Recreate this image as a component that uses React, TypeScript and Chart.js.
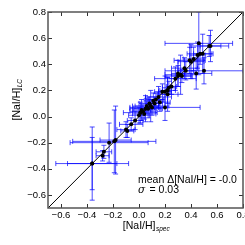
import React, { useEffect, useRef } from "react";
import { Chart, registerables } from "chart.js";

Chart.register(...registerables);

// [NaI/H] spectroscopic values (x)
const xSpec = [
  -0.36, -0.36, -0.28, -0.27, -0.23, -0.19, -0.18, -0.1, -0.09, -0.06, -0.03, 0.0,
  0.02, 0.03, 0.05, 0.06, 0.08, 0.09, 0.1, 0.11, 0.13, 0.15, 0.16, 0.18, 0.2, 0.2,
  0.22, 0.22, 0.23, 0.25, 0.28, 0.3, 0.3, 0.32, 0.33, 0.35, 0.36, 0.39, 0.4, 0.42,
  0.44, 0.45, 0.46, 0.47, 0.49, 0.5, 0.54, 0.55, 0.04, 0.07, 0.12, 0.01,
];
// [NaI/H] line-ratio values (y)
const yLC = [
  -0.36, -0.36, -0.3, -0.27, -0.2, -0.19, -0.18, -0.1, -0.11, -0.06, -0.03, 0.01,
  0.05, 0.04, 0.06, 0.08, 0.1, 0.08, 0.07, 0.12, 0.13, 0.15, 0.11, 0.19, 0.07, 0.19,
  0.2, 0.17, 0.22, 0.23, 0.29, 0.31, 0.33, 0.32, 0.31, 0.37, 0.35, 0.43, 0.42, 0.44,
  0.33, 0.47, 0.56, 0.48, 0.48, 0.35, 0.54, 0.54, 0.02, 0.06, 0.1, 0.03,
];
// x errors
const xErr = [
  0.28, 0.19, 0.05, 0.06, 0.3, 0.32, 0.12, 0.07, 0.05, 0.09, 0.06, 0.08,
  0.07, 0.1, 0.12, 0.09, 0.08, 0.14, 0.05, 0.07, 0.06, 0.1, 0.08, 0.06, 0.27, 0.05,
  0.06, 0.08, 0.05, 0.04, 0.16, 0.1, 0.05, 0.12, 0.08, 0.1, 0.06, 0.12, 0.1, 0.08,
  0.12, 0.06, 0.26, 0.1, 0.07, 0.3, 0.15, 0.08, 0.09, 0.11, 0.06, 0.13,
];
// y errors
const yErr = [
  0.28, 0.2, 0.04, 0.05, 0.15, 0.24, 0.26, 0.06, 0.05, 0.05, 0.07, 0.06,
  0.08, 0.05, 0.1, 0.06, 0.05, 0.12, 0.06, 0.06, 0.05, 0.08, 0.07, 0.06, 0.1, 0.12,
  0.1, 0.13, 0.05, 0.06, 0.09, 0.08, 0.1, 0.15, 0.05, 0.08, 0.07, 0.1, 0.13, 0.09,
  0.12, 0.1, 0.24, 0.08, 0.15, 0.1, 0.08, 0.12, 0.04, 0.07, 0.05, 0.08,
];
const tickValues = [-0.6, -0.4, -0.2, 0.0, 0.2, 0.4, 0.6, 0.8];
const axisMin = -0.7;
const axisMax = 0.8;
const annotLines = ["mean \u0394[NaI/H] = -0.0", "= 0.03"];

const FONT = "'Liberation Sans', Arial, sans-serif";

const fmt = (v: number) => (v < -1e-9 ? "\u2212" : "") + Math.abs(v).toFixed(1);

const errorBarPlugin = {
  id: "errorBars",
  beforeDatasetsDraw(chart: any) {
    const { ctx, chartArea, scales } = chart;
    const xs = scales.x;
    const ys = scales.y;
    ctx.save();
    ctx.beginPath();
    ctx.rect(chartArea.left, chartArea.top, chartArea.right - chartArea.left, chartArea.bottom - chartArea.top);
    ctx.clip();
    ctx.strokeStyle = "rgba(0,0,255,0.7)";
    ctx.lineWidth = 1;
    const cap = 2.5;
    for (let i = 0; i < xSpec.length; i++) {
      const px = xs.getPixelForValue(xSpec[i]);
      const py = ys.getPixelForValue(yLC[i]);
      const x0 = xs.getPixelForValue(xSpec[i] - xErr[i]);
      const x1 = xs.getPixelForValue(xSpec[i] + xErr[i]);
      const y0 = ys.getPixelForValue(yLC[i] - yErr[i]);
      const y1 = ys.getPixelForValue(yLC[i] + yErr[i]);
      ctx.beginPath();
      ctx.moveTo(x0, py); ctx.lineTo(x1, py);
      ctx.moveTo(x0, py - cap); ctx.lineTo(x0, py + cap);
      ctx.moveTo(x1, py - cap); ctx.lineTo(x1, py + cap);
      ctx.moveTo(px, y0); ctx.lineTo(px, y1);
      ctx.moveTo(px - cap, y0); ctx.lineTo(px + cap, y0);
      ctx.moveTo(px - cap, y1); ctx.lineTo(px + cap, y1);
      ctx.stroke();
    }
    ctx.restore();
  },
};

const framePlugin = {
  id: "frame",
  afterDraw(chart: any) {
    const { ctx, chartArea, scales } = chart;
    const { left, right, top, bottom } = chartArea;
    const xs = scales.x;
    const ys = scales.y;
    ctx.save();
    ctx.strokeStyle = "#333";
    ctx.lineWidth = 1;
    const tl = 4;
    ctx.beginPath();
    for (const v of tickValues) {
      const x = Math.round(xs.getPixelForValue(v)) + 0.5;
      ctx.moveTo(x, bottom); ctx.lineTo(x, bottom - tl);
      ctx.moveTo(x, top); ctx.lineTo(x, top + tl);
      const y = Math.round(ys.getPixelForValue(v)) + 0.5;
      ctx.moveTo(left, y); ctx.lineTo(left + tl, y);
      ctx.moveTo(right, y); ctx.lineTo(right - tl, y);
    }
    ctx.stroke();
    ctx.strokeStyle = "#555";
    ctx.lineWidth = 1.5;
    ctx.strokeRect(left, top, right - left, bottom - top);

    // axis titles
    ctx.fillStyle = "#000";
    ctx.textBaseline = "alphabetic";
    ctx.textAlign = "left";
    const main = "[NaI/H]";
    ctx.font = `10.5px ${FONT}`;
    const wMain = ctx.measureText(main).width;
    ctx.font = `italic 6.5px ${FONT}`;
    const wSubX = ctx.measureText("spec").width;
    const cx = 146;
    const sx = cx - (wMain + wSubX) / 2;
    ctx.font = `10.5px ${FONT}`;
    ctx.fillText(main, sx, 228.5);
    ctx.font = `italic 6.5px ${FONT}`;
    ctx.fillText("spec", sx + wMain + 0.5, 231);

    // y title
    ctx.save();
    ctx.translate(19.5, 100);
    ctx.rotate(-Math.PI / 2);
    ctx.font = `italic 6.5px ${FONT}`;
    const wSubY = ctx.measureText("LC").width;
    ctx.font = `10.5px ${FONT}`;
    const sy = -(wMain + wSubY) / 2;
    ctx.fillText(main, sy, 0);
    ctx.font = `italic 6.5px ${FONT}`;
    ctx.fillText("LC", sy + wMain + 0.5, 2.5);
    ctx.restore();

    // annotation
    ctx.font = `10.5px ${FONT}`;
    ctx.fillText(annotLines[0], 138, 182.5);
    ctx.font = `italic 10.5px 'DejaVu Serif', serif`;
    ctx.fillText("\u03c3", 138, 192.5);
    const ws = ctx.measureText("\u03c3 ").width;
    ctx.font = `10.5px ${FONT}`;
    ctx.fillText(annotLines[1], 138 + ws + 1, 192.5);
    ctx.restore();
  },
};

export default function App() {
  const ref = useRef<HTMLCanvasElement>(null);
  useEffect(() => {
    const canvas = ref.current!;
    const chart = new Chart(canvas, {
      type: "scatter",
      data: {
        datasets: [
          {
            type: "line",
            data: [
              { x: axisMin, y: axisMin },
              { x: axisMax, y: axisMax },
            ],
            borderColor: "#000",
            borderWidth: 1,
            pointRadius: 0,
            fill: false,
            order: 2,
          } as any,
          {
            data: xSpec.map((x, i) => ({ x, y: yLC[i] })),
            backgroundColor: "#000",
            borderColor: "#000",
            borderWidth: 0,
            pointRadius: 2,
            pointStyle: "circle",
            order: 1,
          },
        ],
      },
      options: {
        animation: false,
        responsive: false,
        devicePixelRatio: 1,
        layout: { padding: { top: 12, right: 22, left: 0, bottom: 0 } },
        plugins: { legend: { display: false }, tooltip: { enabled: false } },
        scales: {
          x: {
            type: "linear",
            min: axisMin,
            max: axisMax,
            afterBuildTicks: (s: any) => {
              s.ticks = tickValues.map((v) => ({ value: v }));
            },
            afterFit: (s: any) => {
              s.height = 37;
            },
            grid: { display: false, drawTicks: false },
            border: { display: false },
            ticks: {
              color: "#000",
              padding: 2,
              maxRotation: 0,
              autoSkip: false,
              font: { family: FONT, size: 9.5 },
              callback: (v: any) => fmt(Number(v)),
            },
          },
          y: {
            type: "linear",
            min: axisMin,
            max: axisMax,
            afterBuildTicks: (s: any) => {
              s.ticks = tickValues.map((v) => ({ value: v }));
            },
            afterFit: (s: any) => {
              s.width = 48;
            },
            grid: { display: false, drawTicks: false },
            border: { display: false },
            ticks: {
              color: "#000",
              padding: 2,
              autoSkip: false,
              font: { family: FONT, size: 9.5 },
              callback: (v: any) => fmt(Number(v)),
            },
          },
        },
      },
      plugins: [errorBarPlugin, framePlugin],
    });
    return () => chart.destroy();
  }, []);
  return (
    <div
      style={{
        position: "fixed",
        left: 0,
        top: 0,
        width: 245,
        height: 245,
        overflow: "hidden",
        background: "#fff",
      }}
    >
      <canvas ref={ref} width={265} height={245} style={{ width: 265, height: 245, display: "block" }} />
    </div>
  );
}
